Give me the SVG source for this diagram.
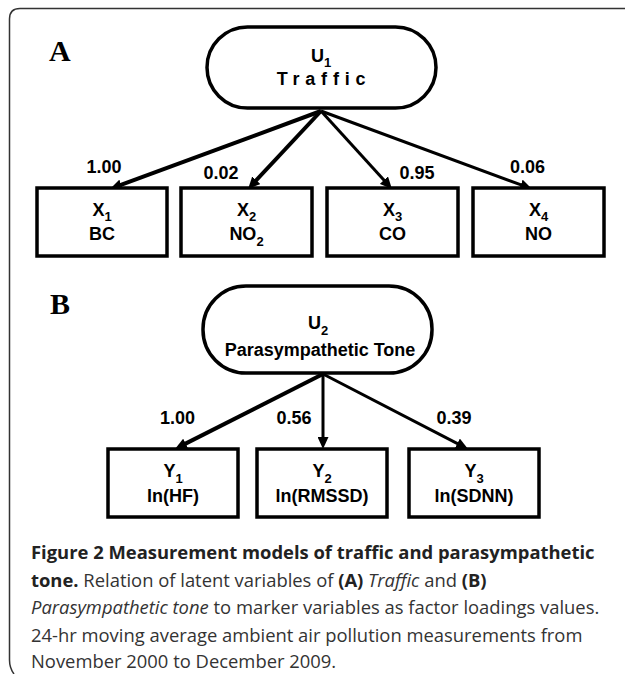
<svg xmlns="http://www.w3.org/2000/svg" width="625" height="674" viewBox="0 0 625 674">
<defs>
<marker id="ah" markerUnits="userSpaceOnUse" markerWidth="13" markerHeight="11" refX="4" refY="5.5" orient="auto" viewBox="0 0 13 11">
<path d="M0,0 L12,5.5 L0,11 z" fill="#000"/>
</marker>
<style>
.frame{fill:none;stroke:#333;stroke-width:1.5}
.node{fill:#fff;stroke:#000;stroke-width:3.5}
.t{font-family:"Liberation Sans",Arial,sans-serif;font-weight:bold;font-size:18px;fill:#000;text-anchor:middle}
.sub{font-size:13px}
.lbl{font-family:"Liberation Sans",Arial,sans-serif;font-weight:bold;font-size:18px;fill:#000;text-anchor:middle}
.panel{font-family:"Liberation Serif","Times New Roman",serif;font-weight:bold;font-size:30px;fill:#000}
.conn{fill:none;stroke:#000;marker-end:url(#ah)}
.cap{font-family:"Open Sans","Noto Sans",sans-serif;font-size:18.4px;fill:#333}
.b{font-weight:bold;fill:#222}
.i{font-style:italic}
</style>
</defs>
<path class="frame" d="M625,8.5 H20 Q9.5,8.5 9.5,19 V660 Q9.5,668 14,674"/>
<text class="panel" x="49" y="61">A</text>
<text class="panel" x="50" y="314">B</text>
<g id="connectors">
<line class="conn" x1="321" y1="111" x2="117.5" y2="186.2" stroke-width="4"/>
<line class="conn" x1="321" y1="111" x2="253.5" y2="183.2" stroke-width="4"/>
<line class="conn" x1="321" y1="111" x2="386.6" y2="183.1" stroke-width="3"/>
<line class="conn" x1="321" y1="111" x2="524.5" y2="186.2" stroke-width="3"/>
<line class="conn" x1="323" y1="374" x2="182.1" y2="445.4" stroke-width="4"/>
<line class="conn" x1="323" y1="374" x2="323" y2="441" stroke-width="3"/>
<line class="conn" x1="323" y1="374" x2="460.9" y2="445.3" stroke-width="3"/>
<text class="lbl" x="104" y="173">1.00</text>
<text class="lbl" x="221" y="179">0.02</text>
<text class="lbl" x="417" y="179">0.95</text>
<text class="lbl" x="527.5" y="173">0.06</text>
<text class="lbl" x="177.5" y="424">1.00</text>
<text class="lbl" x="294" y="424">0.56</text>
<text class="lbl" x="454" y="424">0.39</text>
</g>
<g id="U1">
<rect class="node" x="207" y="27" width="229" height="81" rx="40.5"/>
<text class="t" x="321" y="62">U<tspan class="sub" dy="5">1</tspan></text>
<text class="t" x="324" y="85" letter-spacing="5.8">Traffic</text>
</g>
<g id="X1">
<rect class="node" x="37" y="188" width="130" height="68"/>
<text class="t" x="102" y="216">X<tspan class="sub" dy="5">1</tspan></text>
<text class="t" x="102" y="240">BC</text>
</g>
<g id="X2">
<rect class="node" x="181" y="188" width="131" height="68"/>
<text class="t" x="246.5" y="216">X<tspan class="sub" dy="5">2</tspan></text>
<text class="t" x="246.5" y="240">NO<tspan class="sub" dy="6">2</tspan></text>
</g>
<g id="X3">
<rect class="node" x="327" y="188" width="131" height="68"/>
<text class="t" x="392.5" y="216">X<tspan class="sub" dy="5">3</tspan></text>
<text class="t" x="392.5" y="240">CO</text>
</g>
<g id="X4">
<rect class="node" x="473" y="188" width="131" height="68"/>
<text class="t" x="538.5" y="216">X<tspan class="sub" dy="5">4</tspan></text>
<text class="t" x="538.5" y="240">NO</text>
</g>
<g id="U2">
<rect class="node" x="203" y="286" width="229" height="87" rx="43"/>
<text class="t" x="318" y="329">U<tspan class="sub" dy="6">2</tspan></text>
<text class="t" x="320" y="356">Parasympathetic Tone</text>
</g>
<g id="Y1">
<rect class="node" x="108" y="449" width="130" height="68"/>
<text class="t" x="173" y="477">Y<tspan class="sub" dy="6">1</tspan></text>
<text class="t" x="173" y="502">ln(HF)</text>
</g>
<g id="Y2">
<rect class="node" x="257" y="449" width="130" height="68"/>
<text class="t" x="322" y="477">Y<tspan class="sub" dy="6">2</tspan></text>
<text class="t" x="322" y="502">ln(RMSSD)</text>
</g>
<g id="Y3">
<rect class="node" x="409" y="449" width="130" height="68"/>
<text class="t" x="474" y="477">Y<tspan class="sub" dy="6">3</tspan></text>
<text class="t" x="474" y="502">ln(SDNN)</text>
</g>
<g id="caption">
<text class="cap b" x="31" y="559">Figure 2 Measurement models of traffic and parasympathetic</text>
<text class="cap" x="31" y="586.5"><tspan class="b">tone.</tspan> Relation of latent variables of <tspan class="b">(A)</tspan> <tspan class="i">Traffic</tspan> and <tspan class="b">(B)</tspan></text>
<text class="cap" x="31" y="614"><tspan class="i">Parasympathetic tone</tspan> to marker variables as factor loadings values.</text>
<text class="cap" x="31" y="641.5">24-hr moving average ambient air pollution measurements from</text>
<text class="cap" x="31" y="668">November 2000 to December 2009.</text>
</g>
</svg>
